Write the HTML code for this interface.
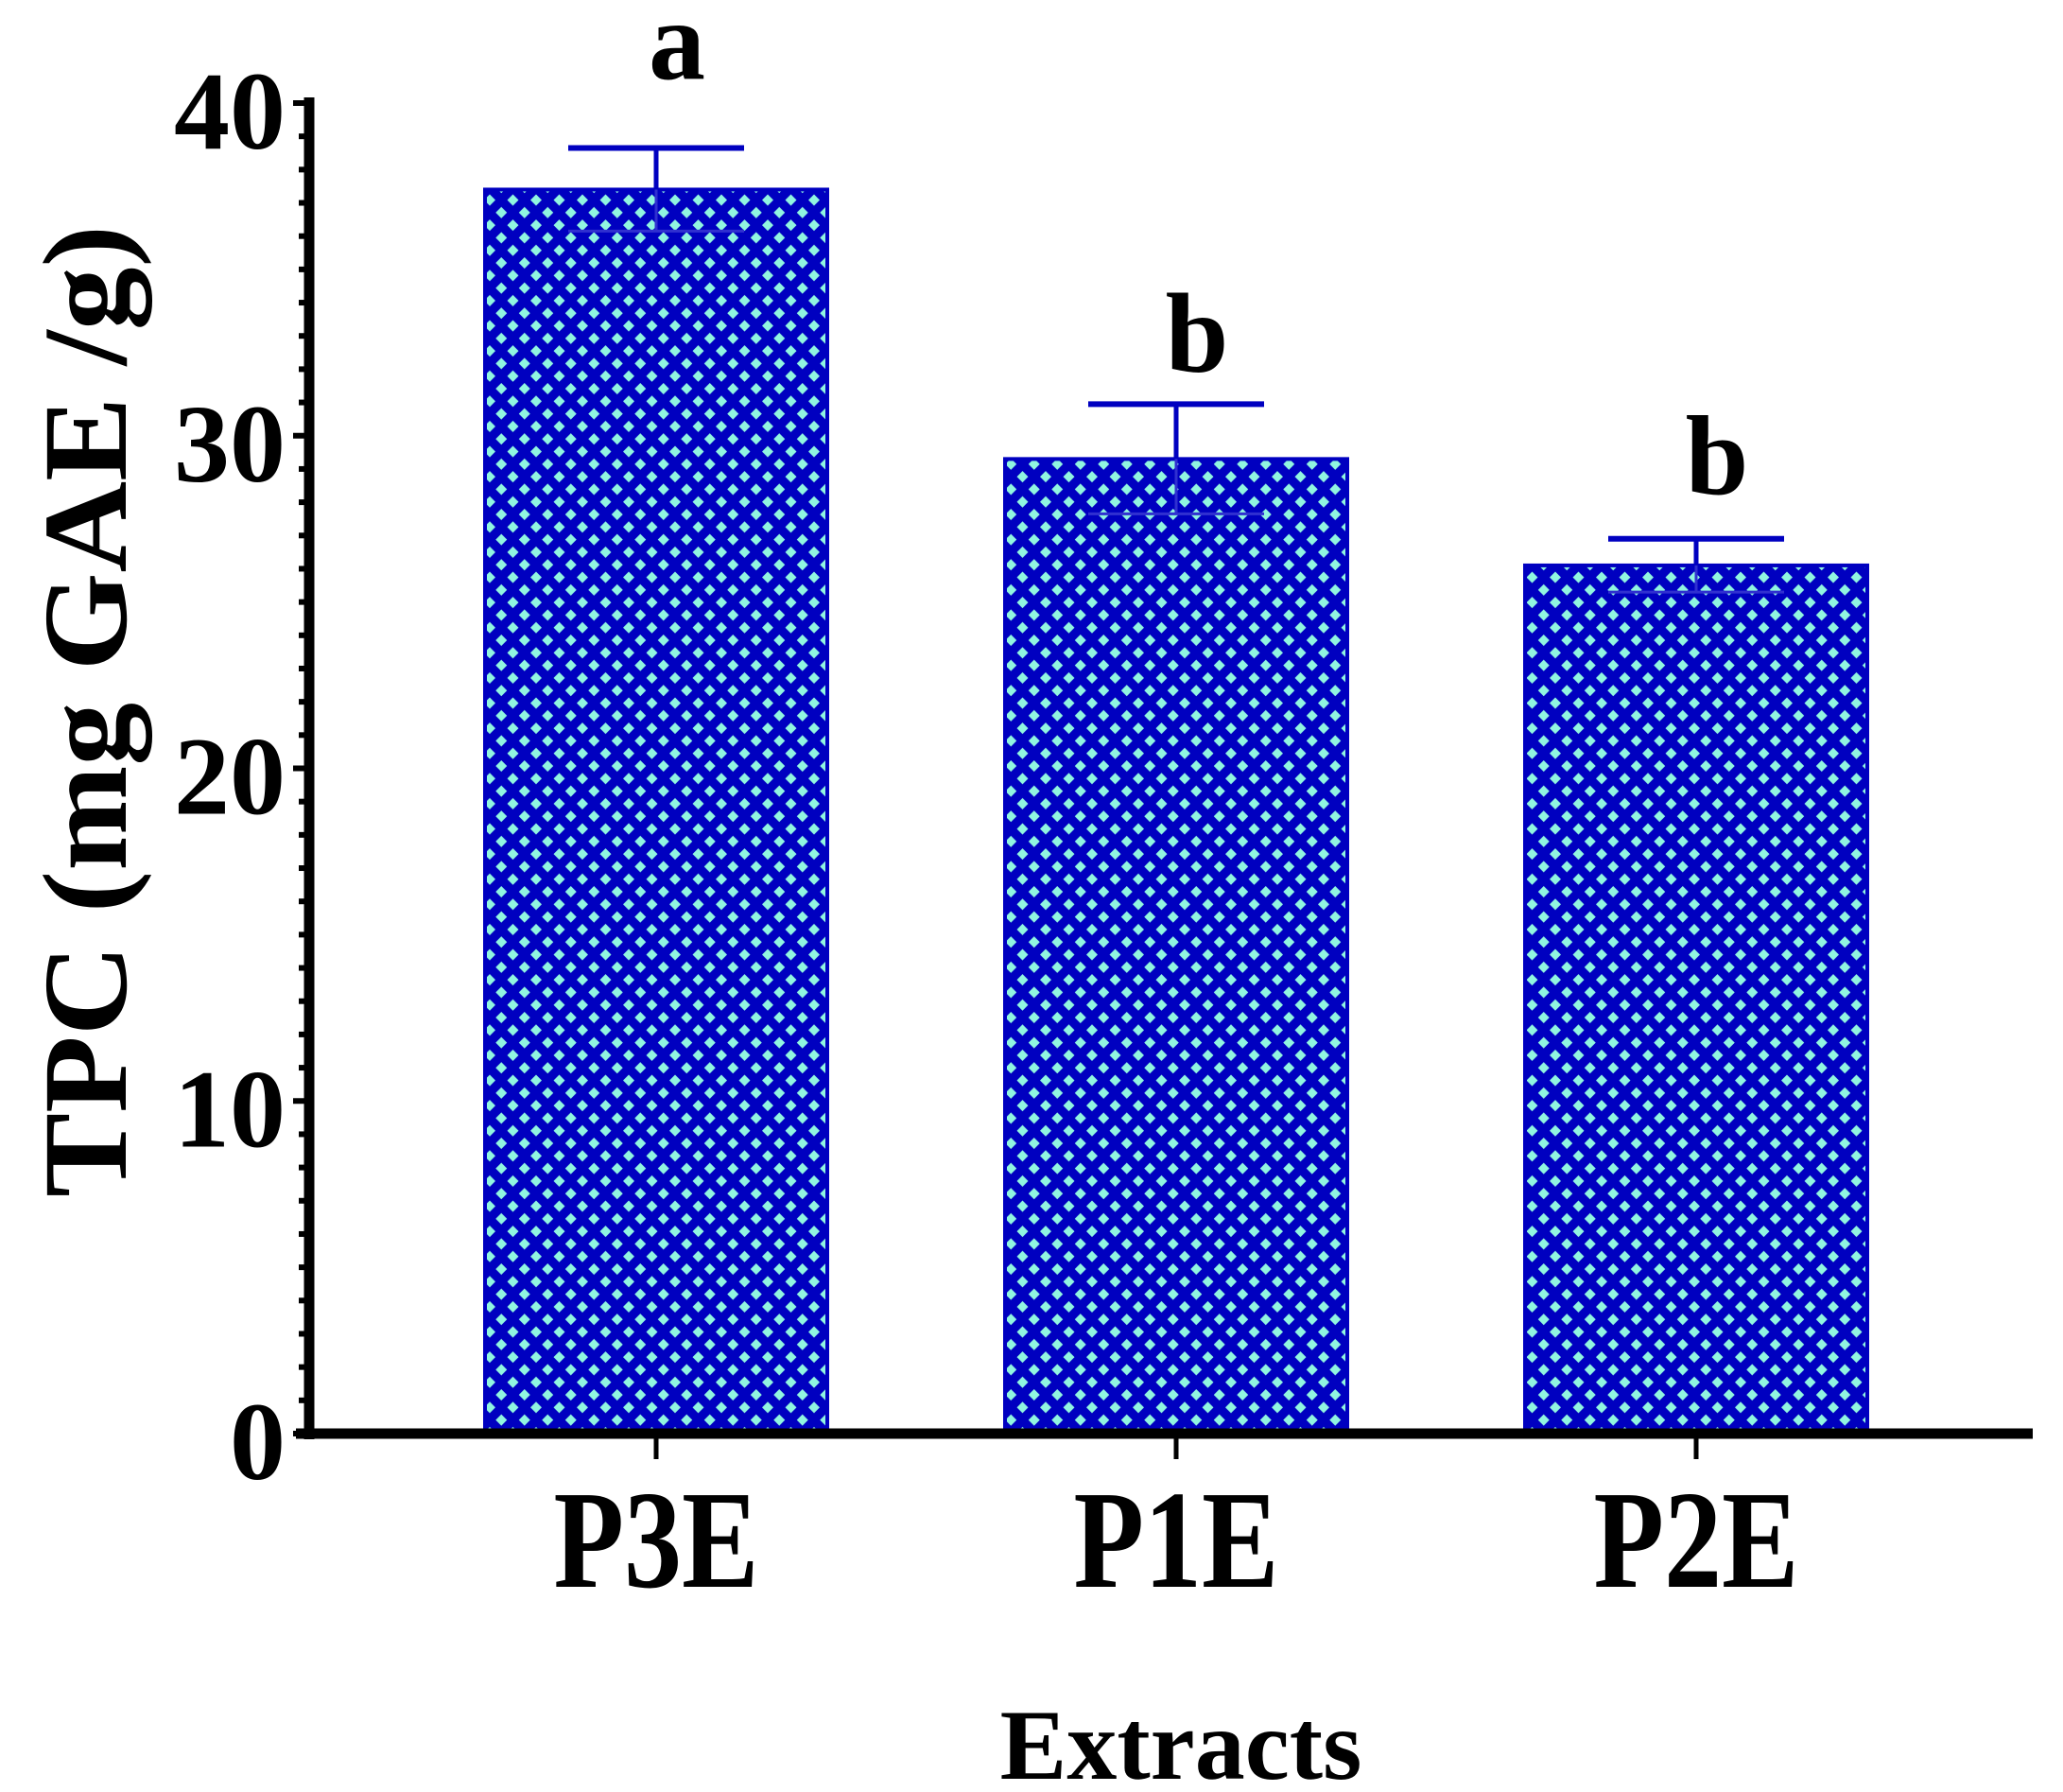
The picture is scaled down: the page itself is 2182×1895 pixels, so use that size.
<!DOCTYPE html>
<html><head><meta charset="utf-8"><style>
html,body{margin:0;padding:0;background:#fff}
svg{display:block}
text{font-family:"Liberation Serif",serif;font-weight:bold;fill:#000}
</style></head><body>
<svg id="chart" width="2182" height="1895" viewBox="0 0 2182 1895" xmlns="http://www.w3.org/2000/svg">
<defs>
<pattern id="dots" patternUnits="userSpaceOnUse" x="512" y="205" width="24.5" height="26.6">
<rect width="24.5" height="26.6" fill="#0000c0"/>
<polygon points="6,0.5 12,6.5 6,12.5 0,6.5" fill="#90f5e0"/>
<polygon points="18.25,13.8 24.25,19.8 18.25,25.8 12.25,19.8" fill="#90f5e0"/>
</pattern>
</defs>
<g id="bars"></g>
<g id="axes"></g>
<text transform="translate(133,752) rotate(-90)" text-anchor="middle" font-size="127" textLength="1028" lengthAdjust="spacingAndGlyphs">TPC (mg GAE /g)</text>
<text x="1249" y="1881" text-anchor="middle" font-size="106">Extracts</text>
</svg>
<script>
const categories = ["P3E", "P1E", "P2E"];
const values = [37.4, 29.3, 26.1];
const errors = [1.25, 1.65, 0.8];
const sigLetters = ["a", "b", "b"];
const yTicks = [0, 10, 20, 30, 40];

const NS = "http://www.w3.org/2000/svg";
const y0 = 1516, yTop = 109, yMax = 40;
function yScale(v){ return y0 - (y0 - yTop) * v / yMax; }
const firstCenter = 694, step = 550, barW = 362;
const letterGap = [73, 35, 48];
function xScale(i){ return firstCenter + i * step; }
function mk(tag, attrs, parent){
  const el = document.createElementNS(NS, tag);
  for (const k in attrs) el.setAttribute(k, attrs[k]);
  parent.appendChild(el);
  return el;
}
const svg = document.getElementById("chart");
const bars = document.getElementById("bars");
const axes = document.getElementById("axes");

categories.forEach((c, i) => {
  const cx = xScale(i);
  const top = yScale(values[i]);
  const r = mk("rect", {x: cx - barW/2, y: top, width: barW, height: y0 - top, fill: "url(#dots)", stroke: "#0000c0", "stroke-width": 4}, bars);
  
  
  const eTop = yScale(values[i] + errors[i]);
  const eBot = yScale(values[i] - errors[i]);
  const g = mk("g", {stroke: "#0000c0", "stroke-width": 5}, bars);
  
  
  mk("line", {x1: cx, x2: cx, y1: eTop, y2: top}, g);
  mk("line", {x1: cx - 93, x2: cx + 93, y1: eTop, y2: eTop, "stroke-width": 6}, g);
  mk("line", {x1: cx, x2: cx, y1: top, y2: eBot, stroke: "#3030d0", "stroke-width": 3}, g);
  mk("line", {x1: cx - 93, x2: cx + 93, y1: eBot, y2: eBot, stroke: "#3030d0", "stroke-width": 3}, g);
  const t = mk("text", {x: cx + 22, y: eTop - letterGap[i], "text-anchor": "middle", "font-size": 120}, svg);
  t.textContent = sigLetters[i];
  
  
  const lbl = mk("text", {x: cx, y: 1678, "text-anchor": "middle", "font-size": 148, textLength: 217, lengthAdjust: "spacingAndGlyphs"}, svg);
  lbl.textContent = c;
  
  
  mk("line", {x1: cx, x2: cx, y1: y0, y2: 1543, stroke: "#000", "stroke-width": 5}, axes);
});

for (let v = 0; v <= yMax; v++) {
  const y = yScale(v);
  const major = yTicks.includes(v);
  mk("line", {x1: major ? 310 : 316, x2: 327, y1: y, y2: y, stroke: "#000", "stroke-width": 6}, axes);
}
yTicks.forEach(v => {
  const t = mk("text", {x: 302, y: yScale(v) + 48, "text-anchor": "end", "font-size": 118, textLength: String(v).length * 59, lengthAdjust: "spacingAndGlyphs"}, svg);
  t.textContent = v;
  
  
});
const ya = mk("line", {x1: 327, x2: 327, y1: 103, y2: 1522, stroke: "#000", "stroke-width": 11}, axes);


const xa = mk("line", {x1: 313, x2: 2150, y1: y0, y2: y0, stroke: "#000", "stroke-width": 11}, axes);


</script>
</body></html>
